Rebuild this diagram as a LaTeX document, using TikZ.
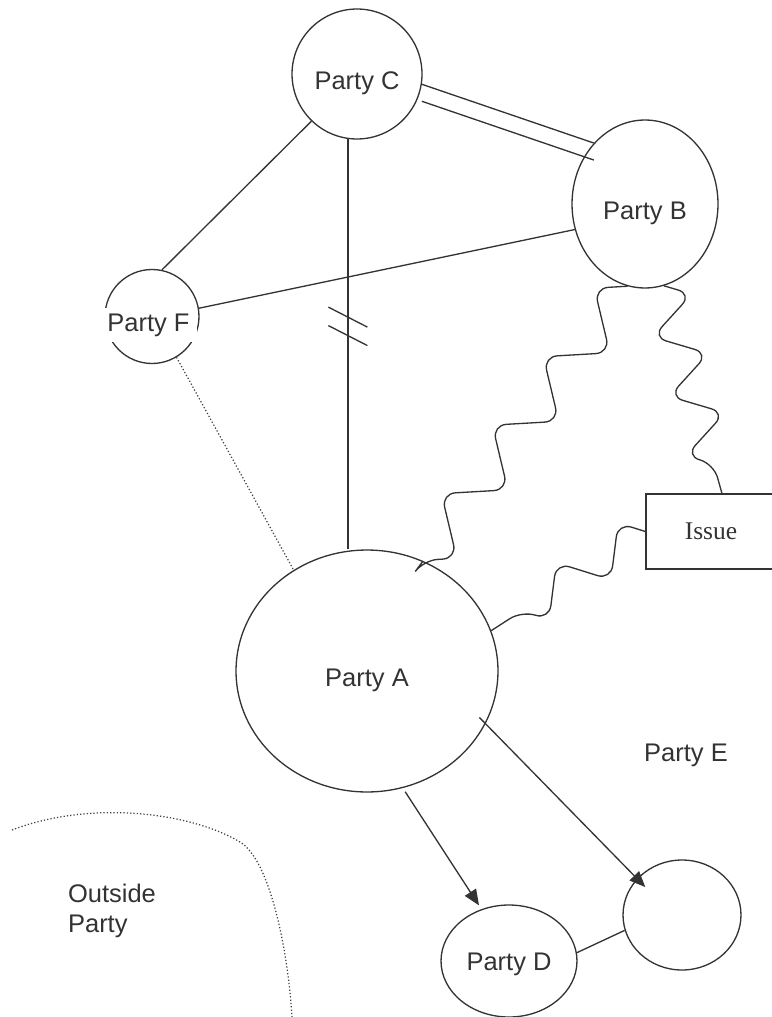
\documentclass[tikz,border=0pt]{standalone}
\usepackage{fontspec}
\setmainfont{Liberation Sans}
\newfontfamily\issuefont{Liberation Serif}
\usetikzlibrary{arrows.meta,calc,shapes.geometric,decorations.pathmorphing}

\begin{document}
\begin{tikzpicture}[
  x=0.02cm, y=-0.02cm,
  font=\fontsize{14.5}{17}\selectfont, text=black!80,
  party/.style={draw=black!80, line width=0.75pt, ellipse, inner sep=0pt,
    text height=18pt, text depth=0pt},
  link/.style={draw=black!80, line width=0.75pt},
  dots/.style={draw=black!75, line width=0.7pt, dash pattern=on 0.7pt off 1.2pt},
  wave/.style 2 args={link, rounded corners=8pt, decorate,
    decoration={zigzag, segment length=#1, amplitude=#2}},
  arrow/.style={link, -{Triangle[length=9pt, width=7.5pt]}}
]
  \useasboundingbox (0,0) rectangle (771,1017);

  % the parties
  \node[party, minimum width=2.6cm, minimum height=2.6cm] (C) at (357,74) {Party C};
  \node[party, minimum width=2.92cm, minimum height=3.36cm] (B) at (645,204) {Party B};
  \node[party, minimum width=1.88cm, minimum height=1.88cm] (F) at (152,316.5) {};
  \node[fill=white, inner sep=0pt, minimum width=1.94cm, minimum height=0.68cm]
    (Ftext) at (148.5,325) {Party F};
  \node[party, minimum width=5.24cm, minimum height=4.84cm] (A) at (367,671) {Party A};
  \node[party, minimum width=2.72cm, minimum height=2.24cm, text height=10.4pt]
    (D) at (509,961) {Party D};
  \node[party, minimum width=2.36cm, minimum height=2.2cm] (E) at (682,915) {};
  \node (Elabel) at (686,755.7) {Party E};
  \node[draw=black!80, line width=0.75pt, minimum width=2.6cm, minimum height=1.5cm,
    font=\issuefont\fontsize{14.5}{17}\selectfont] (Issue) at (711,531.5) {Issue};
  \node[align=left] (outside) at (112,910.5) {Outside\\Party};

  % plain ties
  \draw[link] (C.-9) -- (B.130);
  \draw[link] ($(C.-9)+(0,17)$) -- ($(B.130)+(0,17)$);
  \draw[link] (C.226) -- (F.78);
  \draw[link] (F.10) -- (B.200);
  \draw[link] (C.262) -- coordinate[pos=0.434] (cut1) coordinate[pos=0.479] (cut2)
    (C.262 |- A.north);
  \draw[link] ($(cut1)+(-19.5,-10)$) -- ($(cut1)+(19.5,10)$);
  \draw[link] ($(cut2)+(-19.5,-10)$) -- ($(cut2)+(19.5,10)$);
  \draw[link] (D.7) -- (E.195);
  \draw[dots] (F.-59) -- (A.126);

  % conflict lines
  \draw[wave={48.6pt}{14.5pt}, decoration={mirror}] (B.258) -- (A.63);
  \draw[wave={35.1pt}{14pt}] (B.-77) -- (Issue.74);
  \draw[wave={41.8pt}{12.5pt}, decoration={mirror}] (Issue.west) -- (A.18);

  % influence
  \draw[arrow, shorten <=2.5pt, shorten >=2.5pt] (A.-73) -- (D.118);
  \draw[arrow, shorten <=-5pt, shorten >=-6.8pt] (A.-24.5) -- (E.141);

  % border of the outside party
  \draw[dots] (12,830) .. controls (90,800) and (190,812) .. (240,842)
    .. controls (270,860) and (288,950) .. (292,1017);
\end{tikzpicture}
\end{document}
